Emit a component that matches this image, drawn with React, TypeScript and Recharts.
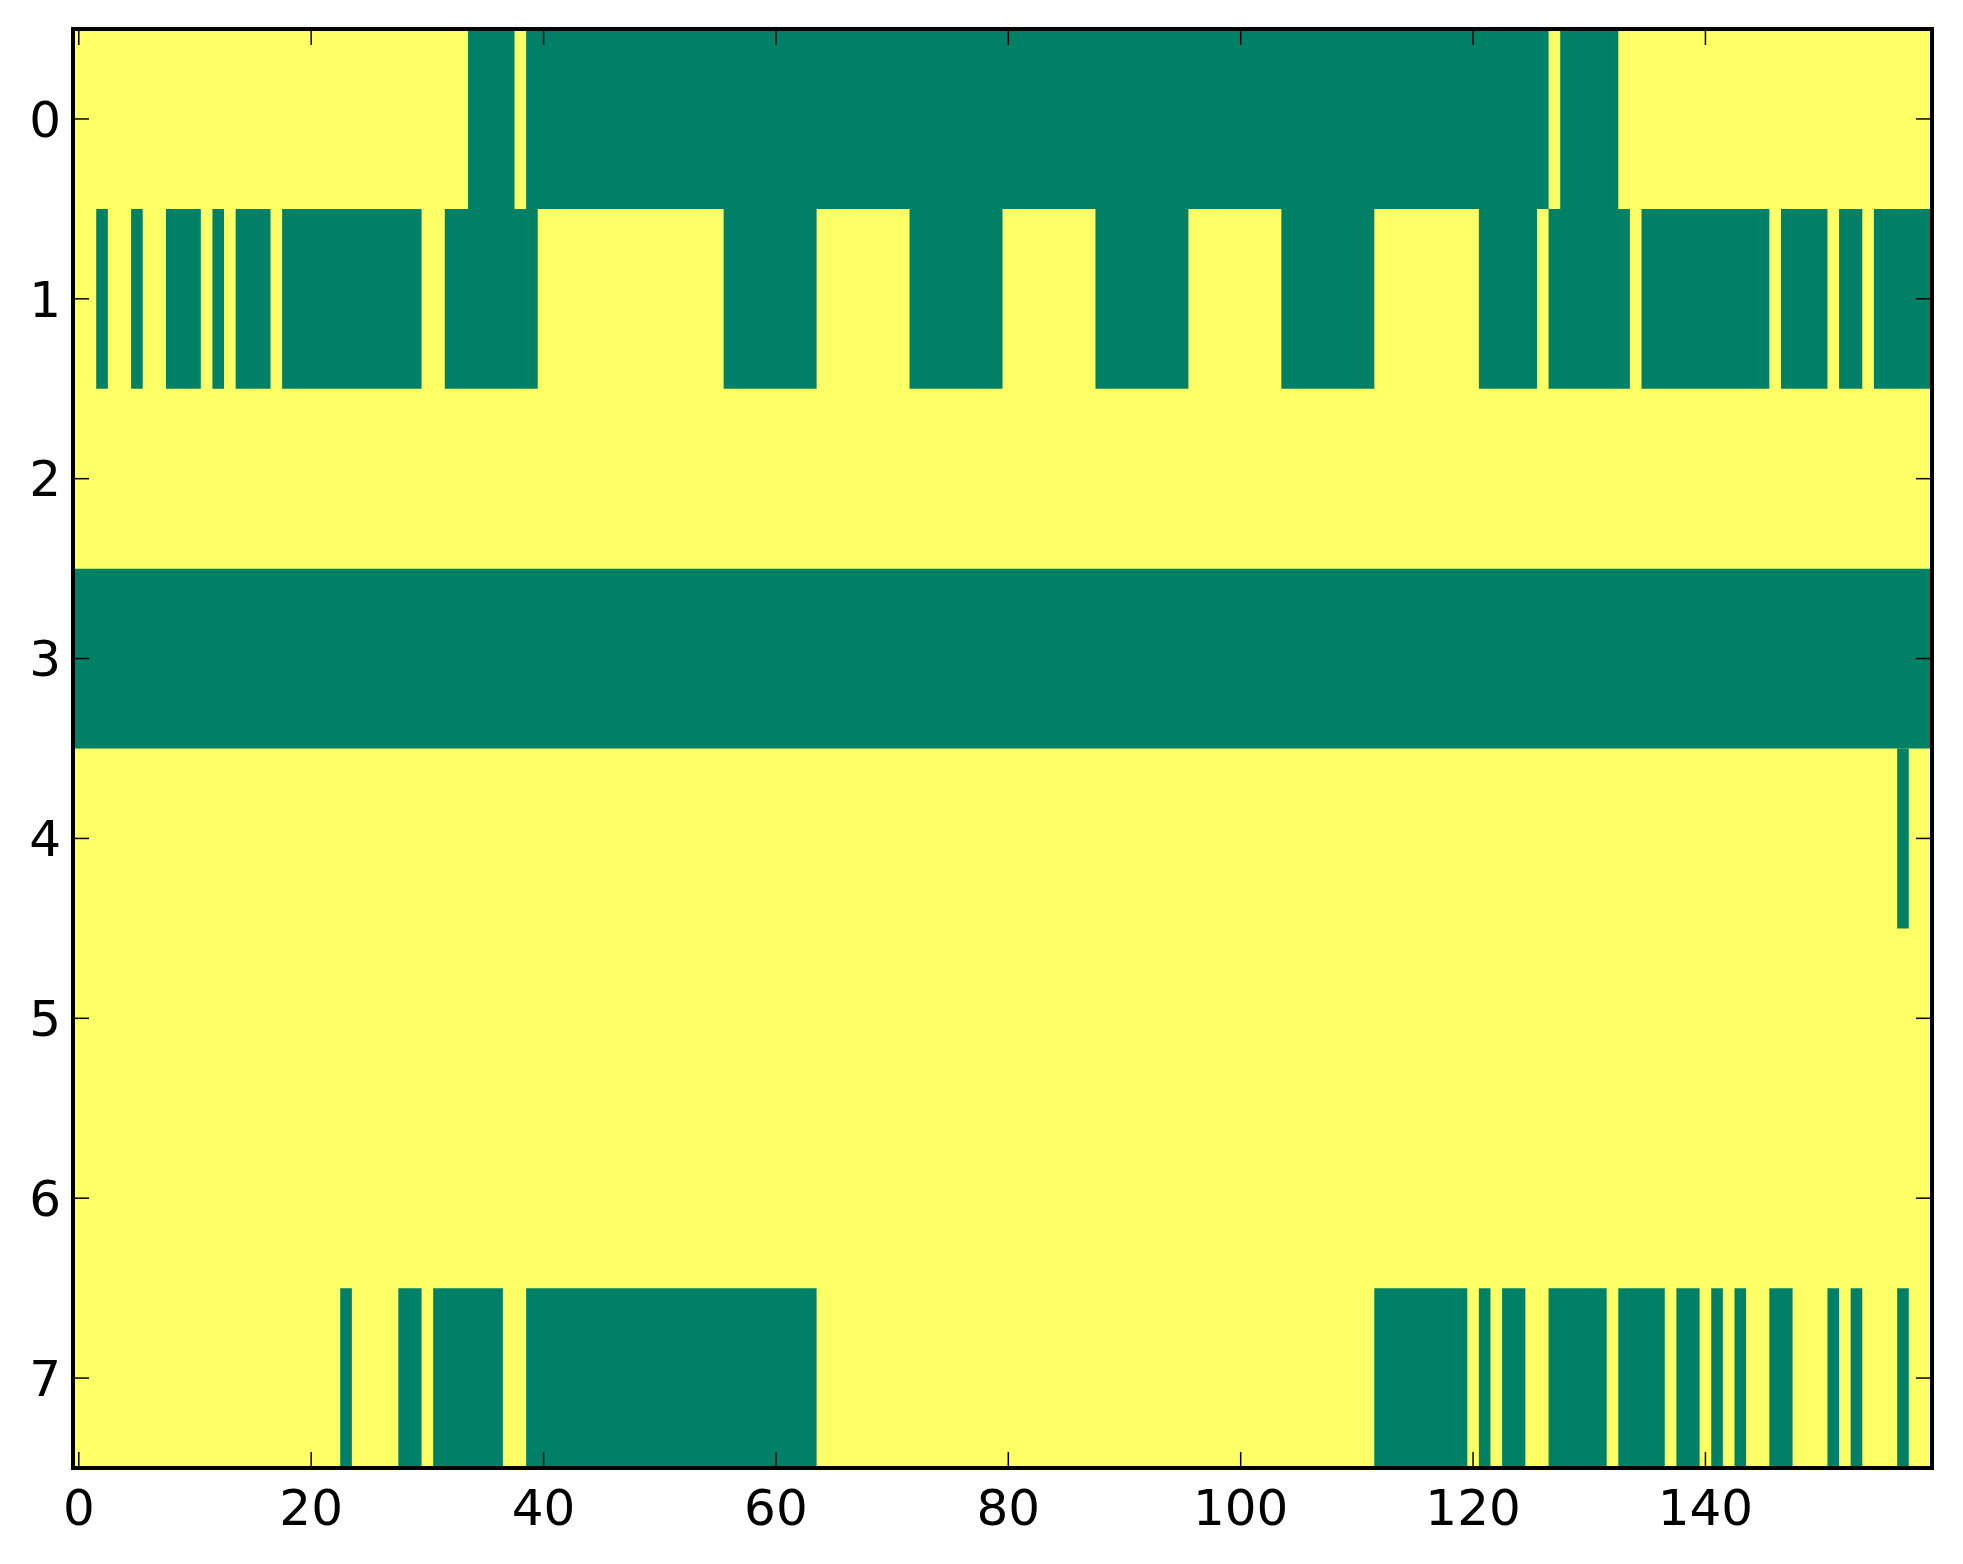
import { ScatterChart, Scatter, XAxis, YAxis, ReferenceArea } from 'recharts';

// green cells per row, as inclusive [firstCol, lastCol] runs; everything else is yellow
const row0Green = [[34, 37], [39, 126], [128, 132]];
const row1Green = [
  [2, 2], [5, 5], [8, 10], [12, 12], [14, 16], [18, 29], [32, 39], [56, 63],
  [72, 79], [88, 95], [104, 111], [121, 125], [127, 133], [135, 145],
  [147, 150], [152, 153], [155, 159],
];
const row2Green: number[][] = [];
const row3Green = [[0, 159]];
const row4Green = [[157, 157]];
const row5Green: number[][] = [];
const row6Green: number[][] = [];
const row7Green = [
  [23, 23], [28, 29], [31, 36], [39, 63], [112, 119], [121, 121], [123, 124],
  [127, 131], [133, 136], [138, 139], [141, 141], [143, 143], [146, 147],
  [151, 151], [153, 153], [157, 157],
];

const rowsGreen = [row0Green, row1Green, row2Green, row3Green, row4Green, row5Green, row6Green, row7Green];

const numCols = 160;
const numRows = 8;
const xTicks = [0, 20, 40, 60, 80, 100, 120, 140];
const yTicks = [0, 1, 2, 3, 4, 5, 6, 7];

const YELLOW = '#FFFF66';
const GREEN = '#008066';

const tickFont = { fill: '#000', fontSize: 50, fontFamily: '"DejaVu Sans", sans-serif' };
const axisLine = { stroke: '#000', strokeWidth: 3.5 };
const tickLine = { stroke: '#000', strokeWidth: 1.5 };

export default function App() {
  const xDomain: [number, number] = [-0.5, numCols - 0.5];
  const yDomain: [number, number] = [-0.5, numRows - 0.5];

  // centres of the runs, only so the axes have data to work with
  const centres = rowsGreen.flatMap((runs, row) =>
    runs.map(([a, b]) => ({ x: (a + b) / 2, y: row }))
  );

  return (
    <div style={{ position: 'absolute', left: 0, top: 0, background: '#fff' }}>
      <ScatterChart width={1963} height={1564} margin={{ top: 0, right: 0, left: 0, bottom: 0 }}>
        <ReferenceArea
          xAxisId="bottom"
          yAxisId="left"
          x1={xDomain[0]}
          x2={xDomain[1]}
          y1={yDomain[0]}
          y2={yDomain[1]}
          fill={YELLOW}
          fillOpacity={1}
          stroke="none"
          ifOverflow="visible"
        />
        {rowsGreen.flatMap((runs, row) =>
          runs.map(([a, b]) => (
            <ReferenceArea
              key={`${row}-${a}`}
              xAxisId="bottom"
              yAxisId="left"
              x1={a - 0.5}
              x2={b + 0.5}
              y1={row - 0.5}
              y2={row + 0.5}
              fill={GREEN}
              fillOpacity={1}
              stroke="none"
              ifOverflow="visible"
            />
          ))
        )}
        {/* frame on top of the cells, like matplotlib's spines */}
        <ReferenceArea
          xAxisId="bottom"
          yAxisId="left"
          x1={xDomain[0]}
          x2={xDomain[1]}
          y1={yDomain[0]}
          y2={yDomain[1]}
          fill="none"
          stroke="#000"
          strokeWidth={4}
          ifOverflow="visible"
        />
        <Scatter
          xAxisId="bottom"
          yAxisId="left"
          data={centres}
          dataKey="y"
          shape={() => null}
          isAnimationActive={false}
        />
        <XAxis
          xAxisId="bottom"
          dataKey="x"
          type="number"
          orientation="bottom"
          domain={xDomain}
          allowDataOverflow
          ticks={xTicks}
          interval={0}
          height={96}
          tick={tickFont}
          axisLine={axisLine}
          tickLine={tickLine}
          tickSize={-16}
          tickMargin={37}
        />
        <XAxis
          xAxisId="top"
          dataKey="x"
          type="number"
          orientation="top"
          domain={xDomain}
          allowDataOverflow
          ticks={xTicks}
          interval={0}
          height={29}
          tickFormatter={() => ''}
          axisLine={axisLine}
          tickLine={tickLine}
          tickSize={-16}
        />
        <YAxis
          yAxisId="left"
          dataKey="y"
          type="number"
          orientation="left"
          domain={yDomain}
          allowDataOverflow
          reversed
          ticks={yTicks}
          interval={0}
          width={73}
          tick={tickFont}
          axisLine={axisLine}
          tickLine={tickLine}
          tickSize={-16}
          tickMargin={28}
        />
        <YAxis
          yAxisId="right"
          dataKey="y"
          type="number"
          orientation="right"
          domain={yDomain}
          allowDataOverflow
          reversed
          ticks={yTicks}
          interval={0}
          width={31}
          tickFormatter={() => ''}
          axisLine={axisLine}
          tickLine={tickLine}
          tickSize={-16}
        />
      </ScatterChart>
    </div>
  );
}
